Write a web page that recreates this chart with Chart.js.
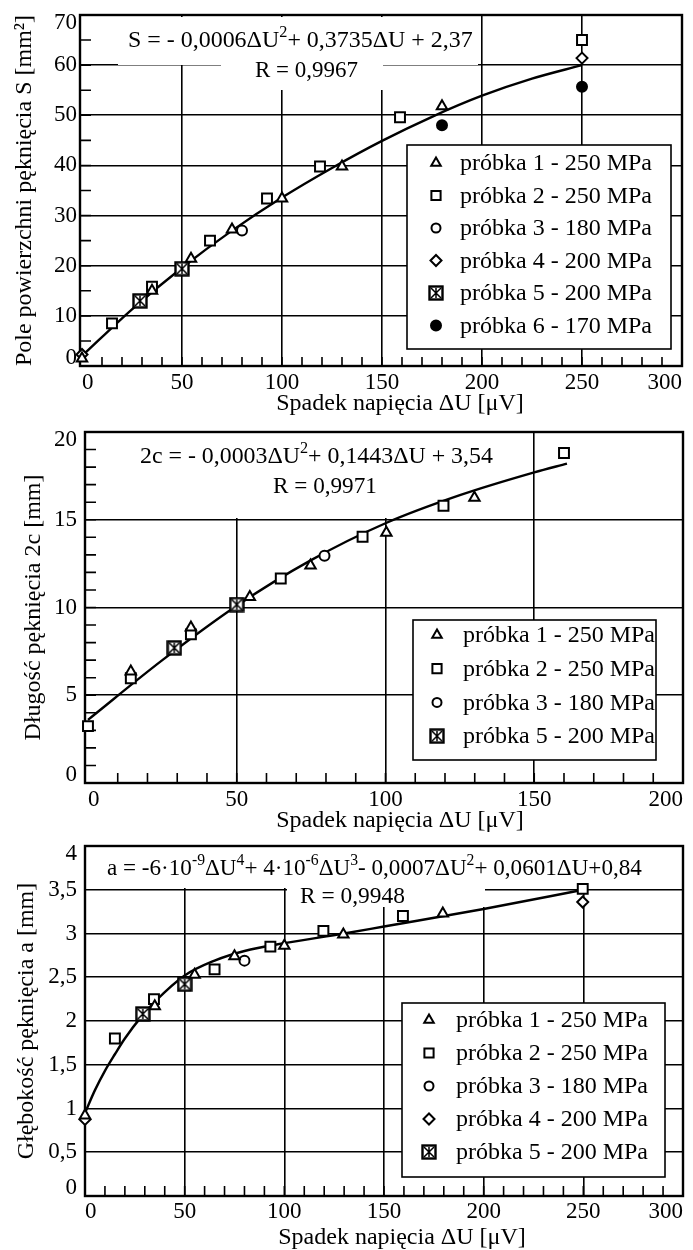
<!DOCTYPE html>
<html>
<head>
<meta charset="utf-8">
<script src="https://cdn.jsdelivr.net/npm/chart.js@4"></script>
<style>
  body { margin: 0; background: #fff; }
  canvas { position: absolute; left: 0; }
</style>
</head>
<body>
<canvas id="c1" width="693" height="420" style="top:0px"></canvas>
<canvas id="c2" width="693" height="416" style="top:420px"></canvas>
<canvas id="c3" width="693" height="414" style="top:836px"></canvas>
<script>
// ---- dane ----
const legendLabels = ['próbka 1 - 250 MPa', 'próbka 2 - 250 MPa', 'próbka 3 - 180 MPa',
                      'próbka 4 - 200 MPa', 'próbka 5 - 200 MPa', 'próbka 6 - 170 MPa'];
const xTitle = 'Spadek napięcia ΔU [μV]';

// wykres 1: pole powierzchni S
const sTicksX = [0, 50, 100, 150, 200, 250, 300];
const sTicksY = [0, 10, 20, 30, 40, 50, 60, 70];
const sP1 = [[0, 1.5], [35, 15], [54.5, 21.4], [75, 27.2], [100, 33.4], [130, 39.8], [180, 51.8]];
const sP2 = [[15, 8.5], [35, 15.8], [64, 25], [92.5, 33.4], [119, 39.8], [159, 49.6], [250, 65]];
const sP3 = [[80, 27]];
const sP4 = [[0, 2.3], [250, 61.4]];
const sP5 = [[29, 13], [50, 19.4]];
const sP6 = [[180, 48], [250, 55.7]];
const sFitX = [0, 25, 50, 75, 100, 125, 150, 175, 200, 225, 250];
const sFitY = [2, 11.3, 19.6, 27, 33.6, 39.5, 44.9, 49.7, 53.9, 57.3, 60];

// wykres 2: długość 2c
const cTicksX = [0, 50, 100, 150, 200];
const cTicksY = [0, 5, 10, 15, 20];
const cP1 = [[14.4, 6.36], [34.6, 8.86], [54.4, 10.6], [74.8, 12.4], [100.3, 14.26], [129.9, 16.25]];
const cP2 = [[0, 3.24], [14.4, 5.97], [34.6, 8.47], [64.8, 11.65], [92.3, 14.03], [119.5, 15.8], [160, 18.8]];
const cP3 = [[79.5, 12.95]];
const cP5 = [[29, 7.7], [50, 10.17]];
const cFitX = [0, 25, 50, 75, 100, 125, 150, 161];
const cFitY = [3.6, 7.0, 10.1, 12.7, 14.8, 16.4, 17.7, 18.2];

// wykres 3: głębokość a
const aTicksX = [0, 50, 100, 150, 200, 250, 300];
const aTicksY = [0, 0.5, 1, 1.5, 2, 2.5, 3, 3.5, 4];
const aP1 = [[0, 0.92], [35, 2.17], [55, 2.53], [75, 2.74], [100, 2.86], [129.6, 2.99], [179.5, 3.23]];
const aP2 = [[15, 1.8], [34.6, 2.25], [65, 2.59], [93, 2.85], [119.6, 3.03], [159.5, 3.2], [249.7, 3.51]];
const aP3 = [[80, 2.69]];
const aP4 = [[0, 0.875], [249.7, 3.36]];
const aP5 = [[29, 2.08], [50, 2.42]];
const aFitX = [0, 5, 10, 15, 20, 29, 35, 50, 65, 80, 100, 130, 150, 200, 250];
const aFitY = [0.95, 1.21, 1.43, 1.62, 1.8, 2.07, 2.22, 2.52, 2.69, 2.8, 2.89, 3.0, 3.08, 3.28, 3.5];

// ---- wygląd ----
const FONT = 'Liberation Serif';
Chart.defaults.font.family = FONT;
Chart.defaults.font.size = 23;
Chart.defaults.color = '#000';

// znacznik próbki 5: kwadrat z gwiazdką
function makeP5(size) {
  const c = document.createElement('canvas');
  c.width = size; c.height = size;
  const g = c.getContext('2d');
  g.strokeStyle = '#000';
  g.fillStyle = '#fff';
  g.fillRect(1, 1, size - 2, size - 2);
  g.lineWidth = 2.4;
  g.strokeRect(1.5, 1.5, size - 3, size - 3);
  g.lineWidth = 1.5;
  g.beginPath();
  g.moveTo(3, 3); g.lineTo(size - 3, size - 3);
  g.moveTo(size - 3, 3); g.lineTo(3, size - 3);
  g.moveTo(size / 2, 3); g.lineTo(size / 2, size - 3);
  g.stroke();
  return c;
}
const p5Icon = makeP5(16);

const markers = [
  { pointStyle: 'triangle', pointRadius: 6, legendRadius: 5.5, backgroundColor: '#fff' },
  { pointStyle: 'rect', pointRadius: 7, legendRadius: 6.5, backgroundColor: '#fff' },
  { pointStyle: 'circle', pointRadius: 5, legendRadius: 4.5, backgroundColor: '#fff' },
  { pointStyle: 'rectRot', pointRadius: 5.5, legendRadius: 5.5, backgroundColor: '#fff' },
  { pointStyle: p5Icon, pointRadius: 8, legendRadius: 8, backgroundColor: '#fff' },
  { pointStyle: 'circle', pointRadius: 5, legendRadius: 5, backgroundColor: '#000' }
];

function pts(arr) { return arr.map(p => ({ x: p[0], y: p[1] })); }

function series(i, arr) {
  return Object.assign({
    label: legendLabels[i],
    data: pts(arr),
    borderColor: '#000',
    borderWidth: 2,
    pointBorderWidth: 2,
    showLine: false,
    clip: false,
    order: 1
  }, markers[i], { pointBackgroundColor: markers[i].backgroundColor });
}

function fit(xs, ys) {
  return {
    label: 'fit',
    noLegend: true,
    data: xs.map((x, i) => ({ x: x, y: ys[i] })),
    showLine: true,
    borderColor: '#000',
    borderWidth: 2.4,
    pointRadius: 0,
    tension: 0.4,
    cubicInterpolationMode: 'monotone',
    clip: false,
    order: 10
  };
}

// tekst z indeksami górnymi ^{...}
function drawRich(ctx, str, x, y, size, dry) {
  const parts = str.split(/\^\{([^}]*)\}/);
  let cx = x;
  parts.forEach((p, i) => {
    if (!p) return;
    const sup = i % 2 === 1;
    ctx.font = (sup ? size * 0.68 : size) + 'px ' + FONT;
    if (!dry) ctx.fillText(p, cx, sup ? y - size * 0.42 : y);
    cx += ctx.measureText(p).width;
  });
  return cx - x;
}

function decor(cfg) {
  return {
    id: 'decor',
    beforeDraw(chart) {
      // skrajne etykiety osi Y przesunięte do środka
      const items = chart.scales.y.getLabelItems();
      if (items.length) {
        items[0].options.translation[1] -= 8;
        items[items.length - 1].options.translation[1] += 8;
      }
    },
    beforeDatasetsDraw(chart) {
      const ctx = chart.ctx;
      const a = chart.chartArea;
      const xs = chart.scales.x, ys = chart.scales.y;
      ctx.save();
      // białe tło pod równaniem
      ctx.fillStyle = '#fff';
      cfg.boxes.forEach(b => ctx.fillRect(b[0], b[1], b[2] - b[0], b[3] - b[1]));
      ctx.fillStyle = '#000';
      ctx.textAlign = 'left';
      ctx.textBaseline = 'alphabetic';
      cfg.eq.forEach(e => {
        const w = drawRich(ctx, e.text, e.x, e.y, 23, true);
        drawRich(ctx, e.text, e.x, e.y, 23 * (e.end - e.x) / w);
      });
      // drobne znaczniki osi
      ctx.strokeStyle = '#000';
      ctx.lineWidth = 1.6;
      ctx.beginPath();
      for (let k = 1; k * cfg.xMinor < xs.max; k++) {
        const px = xs.getPixelForValue(k * cfg.xMinor);
        ctx.moveTo(px, a.bottom); ctx.lineTo(px, a.bottom - cfg.xMinorLen);
      }
      if (cfg.yMinor) {
        for (let k = 1; k * cfg.yMinor < ys.max; k++) {
          const py = ys.getPixelForValue(k * cfg.yMinor);
          ctx.moveTo(a.left, py); ctx.lineTo(a.left + cfg.yMinorLen, py);
        }
      }
      ctx.stroke();
      // ramka
      ctx.lineWidth = 2.4;
      ctx.strokeRect(a.left, a.top, a.right - a.left, a.bottom - a.top);
      // tytuł osi X, rozciągnięty do szerokości z oryginału
      ctx.font = '24px ' + FONT;
      const w0 = ctx.measureText(xTitle).width;
      if ('letterSpacing' in ctx) ctx.letterSpacing = Math.max(0, (245 - w0) / xTitle.length).toFixed(2) + 'px';
      ctx.textAlign = 'center';
      ctx.textBaseline = 'middle';
      ctx.fillText(xTitle, cfg.xTitle.x, cfg.xTitle.y);
      ctx.restore();
    },
    afterDatasetsDraw(chart) {
      const ctx = chart.ctx;
      const L = cfg.legend;
      ctx.save();
      ctx.fillStyle = '#fff';
      ctx.fillRect(L.box[0], L.box[1], L.box[2] - L.box[0], L.box[3] - L.box[1]);
      ctx.strokeStyle = '#000';
      ctx.lineWidth = 1.6;
      ctx.strokeRect(L.box[0], L.box[1], L.box[2] - L.box[0], L.box[3] - L.box[1]);
      const items = chart.data.datasets.filter(d => !d.noLegend);
      items.forEach((d, i) => {
        const y = L.y0 + i * L.dy;
        ctx.save();
        ctx.strokeStyle = '#000';
        ctx.fillStyle = d.backgroundColor;
        ctx.lineWidth = 2;
        Chart.helpers.drawPoint(ctx, { pointStyle: d.pointStyle, radius: d.legendRadius, rotation: 0, borderWidth: 2 }, L.mx, y);
        ctx.restore();
        ctx.fillStyle = '#000';
        ctx.font = '24px ' + FONT;
        ctx.textAlign = 'left';
        ctx.textBaseline = 'middle';
        ctx.fillText(d.label, L.tx, y + 1);
      });
      ctx.restore();
    }
  };
}

function makeChart(cfg) {
  const edge = (v, s) => (v <= 0 || v >= s.max) ? 'rgba(0,0,0,0)' : '#000';
  new Chart(document.getElementById(cfg.id), {
    type: 'scatter',
    data: { datasets: cfg.datasets },
    options: {
      responsive: false,
      animation: false,
      events: [],
      layout: { padding: { top: cfg.pad.top, right: cfg.pad.right, bottom: 0, left: 0 } },
      plugins: { legend: { display: false }, tooltip: { enabled: false } },
      scales: {
        x: {
          type: 'linear', min: cfg.xMin, max: cfg.xMax,
          afterBuildTicks: s => { s.ticks = cfg.xTicks.map(v => ({ value: v })); },
          afterFit: s => { s.height = cfg.xHeight; s.paddingLeft = 0; s.paddingRight = 0; },
          grid: { color: c => edge(c.tick.value, c.scale), lineWidth: 1.6, drawTicks: false },
          border: { display: false },
          ticks: { padding: cfg.xTickPad, align: 'inner', maxRotation: 0, autoSkip: false }
        },
        y: {
          type: 'linear', min: cfg.yMin, max: cfg.yMax,
          afterBuildTicks: s => { s.ticks = cfg.yTicks.map(v => ({ value: v })); },
          afterFit: s => { s.width = cfg.yWidth; s.paddingTop = 0; s.paddingBottom = 0; },
          grid: { color: c => edge(c.tick.value, c.scale), lineWidth: 1.6, drawTicks: false },
          border: { display: false },
          ticks: { padding: cfg.yTickPad, autoSkip: false, callback: v => String(v).replace('.', ',') },
          title: { display: true, text: cfg.yTitle, font: { size: 24 }, padding: { top: cfg.yTitlePad, bottom: 0 } }
        }
      }
    },
    plugins: [decor(cfg)]
  });
}

makeChart({
  id: 'c1',
  datasets: [series(0, sP1), series(1, sP2), series(2, sP3), series(3, sP4), series(4, sP5), series(5, sP6), fit(sFitX, sFitY)],
  xMin: -1, xMax: 300, xTicks: sTicksX,
  yMin: 0, yMax: 70, yTicks: sTicksY,
  yTitle: 'Pole powierzchni pęknięcia S [mm²]',
  pad: { top: 15, right: 11 }, yWidth: 80, xHeight: 54,
  xTickPad: 3, yTickPad: 3, yTitlePad: 10,
  xMinor: 10, xMinorLen: 9, yMinor: 5, yMinorLen: 11,
  xTitle: { x: 400, y: 404 },
  eq: [{ text: 'S = - 0,0006ΔU^{2}+ 0,3735ΔU + 2,37', x: 128, end: 473, y: 47 },
       { text: 'R = 0,9967', x: 255, end: 358, y: 77 }],
  boxes: [[118, 17, 478, 65], [221, 17, 383, 90]],
  legend: { box: [407, 145, 671, 349], mx: 436, tx: 460, y0: 163, dy: 32.5 }
});

makeChart({
  id: 'c2',
  datasets: [series(0, cP1), series(1, cP2), series(2, cP3), series(4, cP5), fit(cFitX, cFitY)],
  xMin: -1, xMax: 200, xTicks: cTicksX,
  yMin: 0, yMax: 20, yTicks: cTicksY,
  yTitle: 'Długość pęknięcia 2c [mm]',
  pad: { top: 12, right: 10 }, yWidth: 85, xHeight: 53,
  xTickPad: 3, yTickPad: 8, yTitlePad: 19,
  xMinor: 10, xMinorLen: 10, yMinor: 1, yMinorLen: 11,
  xTitle: { x: 400, y: 401 },
  eq: [{ text: '2c = - 0,0003ΔU^{2}+ 0,1443ΔU + 3,54', x: 140, end: 493, y: 43 },
       { text: 'R = 0,9971', x: 273, end: 377, y: 73 }],
  boxes: [[130, 13, 500, 98]],
  legend: { box: [413, 200, 656, 340], mx: 437, tx: 463, y0: 215, dy: 33.7 }
});

makeChart({
  id: 'c3',
  datasets: [series(0, aP1), series(1, aP2), series(2, aP3), series(3, aP4), series(4, aP5), fit(aFitX, aFitY)],
  xMin: 0, xMax: 300, xTicks: aTicksX,
  yMin: 0, yMax: 4, yTicks: aTicksY,
  yTitle: 'Głębokość pęknięcia a [mm]',
  pad: { top: 9, right: 8 }, yWidth: 85, xHeight: 54,
  xTickPad: 2, yTickPad: 8, yTitlePad: 12,
  xMinor: 10, xMinorLen: 10, yMinor: 0, yMinorLen: 0,
  xTitle: { x: 402, y: 402 },
  eq: [{ text: 'a = -6·10^{-9}ΔU^{4}+ 4·10^{-6}ΔU^{3}- 0,0007ΔU^{2}+ 0,0601ΔU+0,84', x: 107, end: 642, y: 39 },
       { text: 'R = 0,9948', x: 300, end: 405, y: 67 }],
  boxes: [[95, 10, 683, 52], [287, 10, 485, 71]],
  legend: { box: [402, 167, 665, 341], mx: 429, tx: 456, y0: 184, dy: 33 }
});
</script>
</body>
</html>
